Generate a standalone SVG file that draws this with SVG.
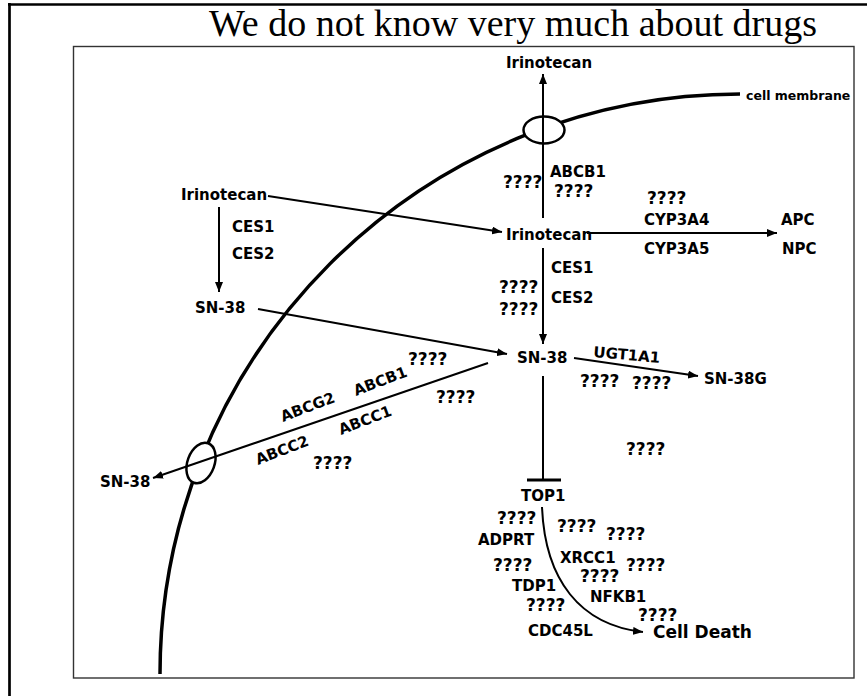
<svg xmlns="http://www.w3.org/2000/svg" width="867" height="696" viewBox="0 0 867 696">
<style>
  .lb { font-family: "DejaVu Sans", Verdana, sans-serif; font-weight: bold; font-size: 15px; fill: #000; }
  .q { font-family: "DejaVu Sans", Verdana, sans-serif; font-weight: bold; font-size: 17px; fill: #000; }
  .sm { font-family: "DejaVu Sans", Verdana, sans-serif; font-weight: bold; font-size: 12.5px; fill: #000; }
  .big { font-family: "DejaVu Sans", Verdana, sans-serif; font-weight: bold; font-size: 17px; fill: #000; }
  .title { font-family: "Liberation Serif", "Times New Roman", serif; font-size: 38px; fill: #000; }
  .ln { fill: none; stroke: #000; stroke-width: 2; }
  .mem { fill: none; stroke: #000; stroke-width: 3.5; }
  .pore { fill: #fff; stroke: #000; stroke-width: 2.5; }
</style>
<defs>
  <marker id="arr" markerUnits="userSpaceOnUse" markerWidth="10" markerHeight="8" refX="10" refY="4" orient="auto">
    <path d="M0,0 L10,4 L0,8 z" fill="#000"/>
  </marker>
</defs>
<rect width="867" height="696" fill="#fff"/>
<g id="frame">
  <line x1="8" y1="4.5" x2="867" y2="4.5" stroke="#000" stroke-width="2.7"/>
  <line x1="9.5" y1="3" x2="9.5" y2="696" stroke="#000" stroke-width="2.7"/>
  <rect x="73.5" y="46.5" width="780.5" height="631.5" fill="none" stroke="#333" stroke-width="1.4"/>
</g>
<text class="title" x="817" y="36" text-anchor="end">We do not know very much about drugs</text>
<g id="membrane">
  <path class="mem" d="M160,674 A580,580 0 0,1 740,94"/>
  <ellipse class="pore" cx="544" cy="130" rx="20.5" ry="13.5"/>
  <ellipse class="pore" cx="201" cy="463" rx="13.5" ry="21" transform="rotate(20 201 463)"/>
  <text class="sm" x="746" y="100">cell membrane</text>
</g>
<g id="connectors">
  <path class="ln" d="M268,196 L502,232" marker-end="url(#arr)"/>
  <path class="ln" d="M219,207 L219,292" marker-end="url(#arr)"/>
  <path class="ln" d="M258,309 L507,354" marker-end="url(#arr)"/>
  <path class="ln" d="M543,218 L543,74" marker-end="url(#arr)"/>
  <path class="ln" d="M543,248 L543,344" marker-end="url(#arr)"/>
  <path class="ln" d="M587,233 L777,233" marker-end="url(#arr)"/>
  <path class="ln" d="M574,358 L698,376" marker-end="url(#arr)"/>
  <path class="ln" d="M488,363 L153,478" marker-end="url(#arr)"/>
  <path class="ln" d="M543,376 L543,480"/>
  <path d="M527,480 L561,480" stroke="#000" stroke-width="3"/>
  <path class="ln" d="M542,507 C545,580 580,625 643,632" marker-end="url(#arr)"/>
</g>
<g id="irinotecan-top"><text class="lb" x="506" y="68">Irinotecan</text></g>
<g id="irinotecan-out"><text class="lb" x="181" y="200">Irinotecan</text></g>
<g id="irinotecan-in"><text class="lb" x="506" y="240">Irinotecan</text></g>
<g id="sn38-out"><text class="lb" x="195" y="313">SN-38</text></g>
<g id="sn38-in"><text class="lb" x="517" y="363">SN-38</text></g>
<g id="sn38-left"><text class="lb" x="100" y="487">SN-38</text></g>
<g id="sn38g"><text class="lb" x="704" y="384">SN-38G</text></g>
<g id="apc"><text class="lb" x="781" y="225">APC</text></g>
<g id="npc"><text class="lb" x="782" y="254">NPC</text></g>
<g id="top1"><text class="lb" x="521" y="501">TOP1</text></g>
<g id="cell-death"><text class="big" x="653" y="638">Cell Death</text></g>
<g id="labels">
  <text class="q" x="503" y="188">????</text>
  <text class="lb" x="550" y="177">ABCB1</text>
  <text class="q" x="554" y="197">????</text>
  <text class="q" x="647" y="204">????</text>
  <text class="lb" x="644" y="225">CYP3A4</text>
  <text class="lb" x="644" y="254">CYP3A5</text>
  <text class="lb" x="232" y="232">CES1</text>
  <text class="lb" x="232" y="259">CES2</text>
  <text class="lb" x="551" y="273">CES1</text>
  <text class="lb" x="551" y="303">CES2</text>
  <text class="q" x="499" y="293">????</text>
  <text class="q" x="499" y="315">????</text>
  <text class="lb" x="593" y="357" transform="rotate(5 593 357)">UGT1A1</text>
  <text class="q" x="580" y="387">????</text>
  <text class="q" x="632" y="389">????</text>
  <text class="q" x="626" y="455">????</text>
  <text class="lb" x="283" y="422" transform="rotate(-21 283 422)">ABCG2</text>
  <text class="lb" x="356" y="396" transform="rotate(-21 356 396)">ABCB1</text>
  <text class="lb" x="341" y="435" transform="rotate(-21 341 435)">ABCC1</text>
  <text class="lb" x="258" y="465" transform="rotate(-21 258 465)">ABCC2</text>
  <text class="q" x="408" y="365">????</text>
  <text class="q" x="436" y="403">????</text>
  <text class="q" x="313" y="469">????</text>
  <text class="q" x="497" y="524">????</text>
  <text class="lb" x="478" y="545">ADPRT</text>
  <text class="q" x="493" y="571">????</text>
  <text class="lb" x="512" y="591">TDP1</text>
  <text class="q" x="526" y="611">????</text>
  <text class="lb" x="528" y="636">CDC45L</text>
  <text class="q" x="557" y="532">????</text>
  <text class="q" x="606" y="540">????</text>
  <text class="lb" x="560" y="563">XRCC1</text>
  <text class="q" x="626" y="571">????</text>
  <text class="q" x="580" y="582">????</text>
  <text class="lb" x="590" y="602">NFKB1</text>
  <text class="q" x="638" y="621">????</text>
</g>
</svg>
